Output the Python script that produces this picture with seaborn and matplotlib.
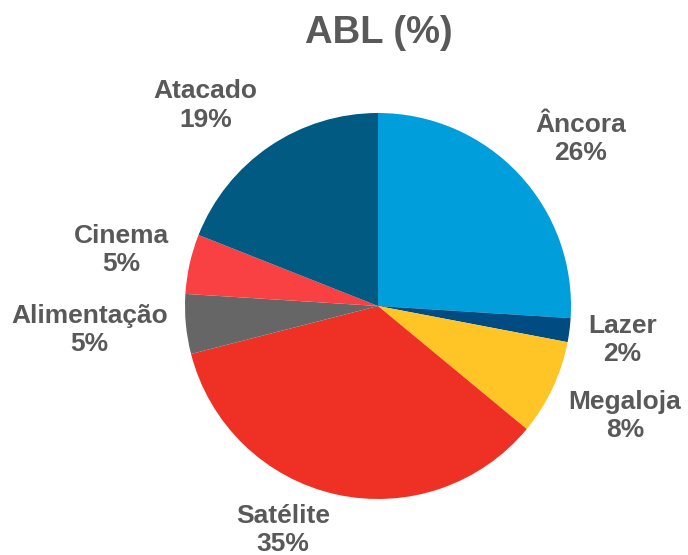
import matplotlib
matplotlib.use("Agg")
import matplotlib.pyplot as plt
import seaborn as sns
import numpy as np

sns.set_theme(style="white")
plt.rcParams["font.family"] = ["Liberation Sans", "DejaVu Sans"]

# Gross leasable area share by tenant type
categories = ["Âncora", "Lazer", "Megaloja", "Satélite", "Alimentação", "Cinema", "Atacado"]
shares = [26, 2, 8, 35, 5, 5, 19]
colors = ["#009EDB", "#004B82", "#FFC425", "#EE3124", "#666666", "#F94144", "#005A82"]

# label anchor points (fraction of radius, angle in degrees)
label_pos = [(1.36, 39.5), (1.28, -8.0), (1.40, -24.0), (1.26, -113.0),
             (1.50, -175.2), (1.36, 167.7), (1.37, 130.7)]

W, H = 688, 555
fig = plt.figure(figsize=(W / 100, H / 100), dpi=100)
cx, cy, R = 378, 306, 193
ax = fig.add_axes([(cx - R) / W, (H - cy - R) / H, 2 * R / W, 2 * R / H])

ax.pie(shares, colors=colors, startangle=90, counterclock=False, radius=1,
       wedgeprops=dict(linewidth=0))
ax.set_xlim(-1, 1)
ax.set_ylim(-1, 1)
ax.set_aspect("equal")
ax.axis("off")

text_color = "#595959"
for name, val, (r, ang) in zip(categories, shares, label_pos):
    a = np.deg2rad(ang)
    ax.text(r * np.cos(a), r * np.sin(a), f"{name}\n{val}%", ha="center", va="center",
            fontsize=19, fontweight="bold", color=text_color, linespacing=1.22,
            clip_on=False)

fig.text(379 / W, 1 - 33 / H, "ABL (%)", ha="center", va="center",
         fontsize=27.5, fontweight="bold", color=text_color)

fig.savefig("out.png", dpi=100, facecolor="white")
